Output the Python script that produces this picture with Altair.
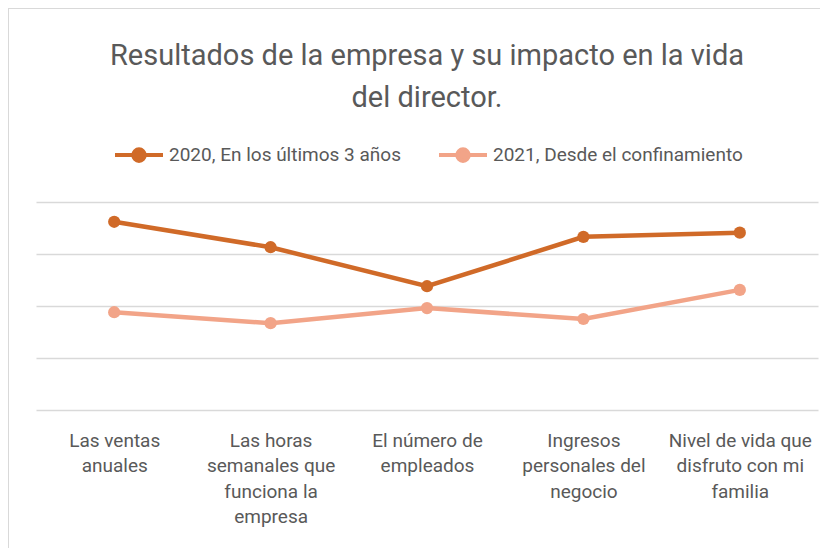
import altair as alt
import pandas as pd

categories = [
    "Las ventas|anuales",
    "Las horas|semanales que|funciona la|empresa",
    "El número de|empleados",
    "Ingresos|personales  del|negocio",
    "Nivel de vida que|disfruto con mi|familia",
]
series_names = ["2020, En los últimos 3 años", "2021, Desde el confinamiento"]
values_2020 = [3.62, 3.13, 2.38, 3.33, 3.41]
values_2021 = [1.88, 1.67, 1.96, 1.75, 2.31]
colors = ["#D06A28", "#F2A488"]

rows = []
for c, v in zip(categories, values_2020):
    rows.append({"cat": c, "serie": series_names[0], "valor": v})
for c, v in zip(categories, values_2021):
    rows.append({"cat": c, "serie": series_names[1], "valor": v})
df = pd.DataFrame(rows)

FONT = "Roboto, Open Sans, sans-serif"
TXT = "#595959"

x_enc = alt.X("cat:N", sort=categories, title=None,
              scale=alt.Scale(padding=0.5),
              axis=alt.Axis(labelExpr="split(datum.label, '|')", labelAngle=0,
                            labelFontSize=19, labelColor=TXT, labelFont=FONT,
                            labelLineHeight=25.5, labelPadding=21, labelBaseline="top",
                            labelLimit=300,
                            domain=False, ticks=False, grid=False))
y_enc = alt.Y("valor:Q", title=None,
              scale=alt.Scale(domain=[0, 4], nice=False),
              axis=alt.Axis(values=[0, 1, 2, 3, 4], labels=False, ticks=False,
                            domain=False, grid=True, gridColor="#d9d9d9",
                            gridWidth=1.5))
color_enc = alt.Color("serie:N", sort=series_names,
                      scale=alt.Scale(domain=series_names, range=colors),
                      legend=alt.Legend(title=None, orient="none", direction="horizontal",
                                        legendX=77, legendY=-73,
                                        columnPadding=30, labelLimit=400,
                                        symbolType="M-1,0L1,0M0.24,0A0.24,0.24,0,1,1,-0.24,0A0.24,0.24,0,1,1,0.24,0Z",
                                        symbolSize=2304, symbolStrokeWidth=4,
                                        labelFontSize=19, labelColor=TXT, labelFont=FONT,
                                        labelOffset=4))

base = alt.Chart(df)
lines = base.mark_line(strokeWidth=4.5).encode(x=x_enc, y=y_enc, color=color_enc)
points = base.mark_point(filled=True, size=150, opacity=1).encode(x=x_enc, y=y_enc, color=color_enc)

border_left = alt.Chart(pd.DataFrame({"k": [0]})).mark_rule(color="#d9d9d9", strokeWidth=2).encode(
    x=alt.value(-28), y=alt.value(-194), y2=alt.value(400))
border_top = alt.Chart(pd.DataFrame({"k": [0]})).mark_rule(color="#d9d9d9", strokeWidth=2).encode(
    x=alt.value(-28), x2=alt.value(900), y=alt.value(-194))

chart = alt.layer(border_left, border_top, lines, points).properties(
    width=782, height=208,
    background="white",
    title=alt.TitleParams(["Resultados de la empresa y su impacto en la vida", "del director."],
                          fontSize=29, font=FONT, color=TXT, fontWeight="normal",
                          anchor="middle", lineHeight=42, offset=0, dy=106),
    autosize=alt.AutoSizeParams(type="none"),
    padding={"left": 28, "top": 194, "right": 2, "bottom": 138},
).configure_view(stroke=None, strokeWidth=0)

chart.save("out.html", embed_options={"renderer": "svg", "actions": False})
